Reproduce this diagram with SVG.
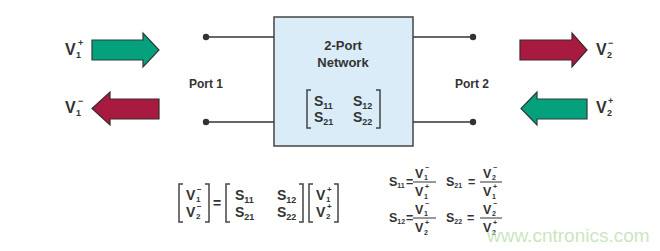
<svg xmlns="http://www.w3.org/2000/svg" width="660" height="251" viewBox="0 0 660 251">
<style>
text{font-family:"Liberation Sans",Arial,sans-serif;fill:#333;font-weight:bold}
.l{font-size:12px}
.n{font-size:13px}
.v{font-size:16px}
.m{font-size:14px}
.s{font-size:9px}
.ss{font-size:8px}
.f{font-size:12.5px}
.fs{font-size:7px}
.br{fill:none;stroke:#444;stroke-width:1.5}
.wire{stroke:#333;stroke-width:1.3;fill:none}
.dot{fill:#333}
.g{fill:#05a07c;stroke:#2f3b3a;stroke-width:1.2}
.r{fill:#a91a40;stroke:#3a2a2e;stroke-width:1.2}
.fl{stroke:#333;stroke-width:1}
</style>
<rect width="660" height="251" fill="#fff"/>
<g id="connectors">
<line class="wire" x1="206" y1="37" x2="274" y2="37"/>
<line class="wire" x1="206" y1="122" x2="274" y2="122"/>
<line class="wire" x1="413" y1="37" x2="473" y2="37"/>
<line class="wire" x1="413" y1="122" x2="473" y2="122"/>
<circle class="dot" cx="206" cy="37" r="3.2"/>
<circle class="dot" cx="206" cy="122" r="3.2"/>
<circle class="dot" cx="473" cy="37" r="3.2"/>
<circle class="dot" cx="473" cy="122" r="3.2"/>
</g>
<g id="network">
<rect x="274" y="17" width="139" height="129" fill="#d9ecf8" stroke="#444" stroke-width="1.5"/>
<text class="n" x="343" y="50" text-anchor="middle">2-Port</text>
<text class="n" x="343" y="67" text-anchor="middle">Network</text>
<path class="br" d="M311,90 H307 V128 H311"/>
<path class="br" d="M376,90 H380 V128 H376"/>
<text class="m" x="314" y="106">S<tspan class="s" dy="3">11</tspan></text>
<text class="m" x="353" y="106">S<tspan class="s" dy="3">12</tspan></text>
<text class="m" x="314" y="122">S<tspan class="s" dy="3">21</tspan></text>
<text class="m" x="353" y="122">S<tspan class="s" dy="3">22</tspan></text>
</g>
<g id="port1">
<text class="l" x="189" y="88">Port 1</text>
</g>
<g id="port2">
<text class="l" x="455" y="88">Port 2</text>
</g>
<g id="v1plus">
<path class="g" d="M92,40 H143 V33 L159,50 L143,67 V60 H92 Z"/>
<text class="v" x="65" y="55">V</text><text class="s" x="78" y="46">+</text><text class="s" x="76" y="58">1</text>
</g>
<g id="v1minus">
<path class="r" d="M159,99 H110 V92 L92,108.5 L110,125 V119 H159 Z"/>
<text class="v" x="65" y="113">V</text><text class="s" x="78" y="104">−</text><text class="s" x="76" y="116">1</text>
</g>
<g id="v2minus">
<path class="r" d="M520,40 H572 V33 L587,50 L572,67 V60 H520 Z"/>
<text class="v" x="596" y="55">V</text><text class="s" x="608" y="46">−</text><text class="s" x="607" y="58">2</text>
</g>
<g id="v2plus">
<path class="g" d="M587,99 H537 V92 L521,108.5 L537,125 V119 H587 Z"/>
<text class="v" x="596" y="113">V</text><text class="s" x="608" y="104">+</text><text class="s" x="607" y="116">2</text>
</g>
<g id="matrix-eq">
<path class="br" d="M183,184 H179 V222 H183"/>
<path class="br" d="M205,184 H209 V222 H205"/>
<text class="m" x="186" y="200">V</text><text class="ss" x="197" y="192">−</text><text class="ss" x="196" y="202">1</text>
<text class="m" x="186" y="217">V</text><text class="ss" x="197" y="209">−</text><text class="ss" x="196" y="219">2</text>
<text class="m" x="213" y="208">=</text>
<path class="br" d="M230,184 H226 V222 H230"/>
<path class="br" d="M299,184 H303 V222 H299"/>
<text class="m" x="235" y="200">S<tspan class="s" dy="3">11</tspan></text>
<text class="m" x="277" y="200">S<tspan class="s" dy="3">12</tspan></text>
<text class="m" x="235" y="217">S<tspan class="s" dy="3">21</tspan></text>
<text class="m" x="277" y="217">S<tspan class="s" dy="3">22</tspan></text>
<path class="br" d="M313,184 H309 V222 H313"/>
<path class="br" d="M334,184 H338 V222 H334"/>
<text class="m" x="316" y="200">V</text><text class="ss" x="327" y="192">+</text><text class="ss" x="326" y="202">1</text>
<text class="m" x="316" y="217">V</text><text class="ss" x="327" y="209">+</text><text class="ss" x="326" y="219">2</text>
</g>
<g id="definitions">
<text class="f" x="389" y="186">S<tspan class="fs" dy="2">11</tspan></text>
<text class="f" x="406" y="186">=</text>
<text class="f" x="415" y="178">V</text><text class="fs" x="425" y="170">−</text><text class="fs" x="424" y="180">1</text>
<line class="fl" x1="413" y1="182" x2="436" y2="182"/>
<text class="f" x="415" y="196">V</text><text class="fs" x="425" y="189">+</text><text class="fs" x="424" y="199">1</text>
<text class="f" x="446" y="186">S<tspan class="fs" dy="2">21</tspan></text>
<text class="f" x="468" y="186">=</text>
<text class="f" x="483" y="178">V</text><text class="fs" x="493" y="170">−</text><text class="fs" x="492" y="180">2</text>
<line class="fl" x1="480" y1="182" x2="502" y2="182"/>
<text class="f" x="483" y="196">V</text><text class="fs" x="493" y="189">+</text><text class="fs" x="492" y="199">1</text>
<text class="f" x="389" y="222">S<tspan class="fs" dy="2">12</tspan></text>
<text class="f" x="406" y="222">=</text>
<text class="f" x="415" y="214">V</text><text class="fs" x="425" y="206">−</text><text class="fs" x="424" y="216">1</text>
<line class="fl" x1="413" y1="218" x2="436" y2="218"/>
<text class="f" x="415" y="232">V</text><text class="fs" x="425" y="225">+</text><text class="fs" x="424" y="235">2</text>
<text class="f" x="446" y="222">S<tspan class="fs" dy="2">22</tspan></text>
<text class="f" x="467" y="222">=</text>
<text class="f" x="483" y="214">V</text><text class="fs" x="493" y="206">−</text><text class="fs" x="492" y="216">2</text>
<line class="fl" x1="480" y1="218" x2="502" y2="218"/>
<text class="f" x="483" y="232">V</text><text class="fs" x="493" y="225">+</text><text class="fs" x="492" y="235">2</text>
</g>
<text x="487" y="242" style="font-size:19px;font-weight:normal;fill:#b9dba8;fill-opacity:0.75">www.cntronics.com</text>
</svg>
